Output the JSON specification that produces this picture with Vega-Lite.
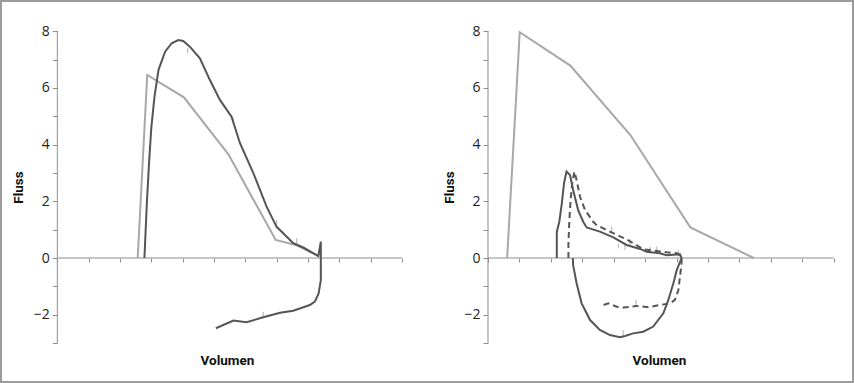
{
  "$schema": "https://vega.github.io/schema/vega-lite/v6.json",
  "background": "#9c9c9c",
  "padding": {"left": 2, "top": 2, "right": 2, "bottom": 2},
  "spacing": 0,
  "bounds": "flush",
  "config": {
    "view": {"stroke": null, "fill": "white"},
    "axis": {
      "grid": false,
      "domain": false,
      "tickColor": "#8f8f8f",
      "tickWidth": 1,
      "labelFont": "Open Sans",
      "labelFontSize": 14,
      "labelColor": "#222222",
      "titleFont": "Roboto",
      "titleFontSize": 13.5,
      "titleFontWeight": "bold",
      "titleColor": "#111111"
    }
  },
  "datasets": {
    "axl": [{"x": 0, "y": -3, "y2": 8}],
    "axh": [{"x": 0, "x2": 11, "y": 0}],
    "L_err": [
      {"x": 4.16, "y": 7.23, "y2": 7.42}, {"x": 5.62, "y": 4.69, "y2": 4.93},
      {"x": 7.0, "y": 1.05, "y2": 1.34}, {"x": 7.64, "y": 0.46, "y2": 0.7},
      {"x": 6.57, "y": -2.13, "y2": -1.9}
    ],
    "R_err": [
      {"x": 3.94, "y": 0.87, "y2": 1.11}, {"x": 4.15, "y": 0.34, "y2": 0.5},
      {"x": 4.36, "y": 0.28, "y2": 0.46}, {"x": 4.52, "y": 0.46, "y2": 0.66},
      {"x": 5.16, "y": 0.17, "y2": 0.4}, {"x": 5.37, "y": 0.17, "y2": 0.4},
      {"x": 6.06, "y": 0.1, "y2": 0.28}, {"x": 4.71, "y": -1.72, "y2": -1.48},
      {"x": 4.3, "y": -2.75, "y2": -2.54}
    ],
    "L_light": [
      {"i": 0, "x": 2.565, "y": 0}, {"i": 1, "x": 2.87, "y": 6.46}, {"i": 2, "x": 4.04, "y": 5.67},
      {"i": 3, "x": 5.46, "y": 3.66}, {"i": 4, "x": 6.97, "y": 0.635}, {"i": 5, "x": 7.64, "y": 0.45},
      {"i": 6, "x": 8.33, "y": 0.07}
    ],
    "L_dark": [
      {"i": 0, "x": 2.78, "y": 0}, {"i": 1, "x": 2.86, "y": 2.0}, {"i": 2, "x": 2.93, "y": 3.4},
      {"i": 3, "x": 3.0, "y": 4.6}, {"i": 4, "x": 3.1, "y": 5.69}, {"i": 5, "x": 3.23, "y": 6.64}, {"i": 6, "x": 3.44, "y": 7.28},
      {"i": 7, "x": 3.65, "y": 7.58}, {"i": 8, "x": 3.86, "y": 7.69}, {"i": 9, "x": 4.02, "y": 7.66},
      {"i": 10, "x": 4.23, "y": 7.46}, {"i": 11, "x": 4.55, "y": 7.05}, {"i": 12, "x": 4.87, "y": 6.28},
      {"i": 13, "x": 5.19, "y": 5.58}, {"i": 14, "x": 5.56, "y": 4.99}, {"i": 15, "x": 5.83, "y": 4.05},
      {"i": 16, "x": 6.26, "y": 2.99}, {"i": 17, "x": 6.68, "y": 1.81}, {"i": 18, "x": 7.0, "y": 1.1},
      {"i": 19, "x": 7.53, "y": 0.52}, {"i": 20, "x": 7.85, "y": 0.37}, {"i": 21, "x": 8.33, "y": 0.07},
      {"i": 22, "x": 8.41, "y": 0.58}, {"i": 23, "x": 8.41, "y": -0.07}, {"i": 24, "x": 8.41, "y": -0.78},
      {"i": 25, "x": 8.34, "y": -1.25}, {"i": 26, "x": 8.22, "y": -1.54}, {"i": 27, "x": 8.06, "y": -1.66},
      {"i": 28, "x": 7.53, "y": -1.86}, {"i": 29, "x": 7.11, "y": -1.93}, {"i": 30, "x": 6.57, "y": -2.09},
      {"i": 31, "x": 6.04, "y": -2.27}, {"i": 32, "x": 5.62, "y": -2.21}, {"i": 33, "x": 5.06, "y": -2.48}
    ],
    "R_light": [
      {"i": 0, "x": 0.61, "y": 0}, {"i": 1, "x": 1.01, "y": 7.97}, {"i": 2, "x": 2.62, "y": 6.79},
      {"i": 3, "x": 4.53, "y": 4.34}, {"i": 4, "x": 6.44, "y": 1.08}, {"i": 5, "x": 8.46, "y": 0}
    ],
    "R_solid": [
      {"i": 0, "x": 2.19, "y": 0}, {"i": 1, "x": 2.19, "y": 0.93}, {"i": 2, "x": 2.27, "y": 1.28},
      {"i": 3, "x": 2.35, "y": 1.93}, {"i": 4, "x": 2.42, "y": 2.64}, {"i": 5, "x": 2.5, "y": 3.05},
      {"i": 6, "x": 2.61, "y": 2.93}, {"i": 7, "x": 2.71, "y": 2.4}, {"i": 8, "x": 2.87, "y": 1.69},
      {"i": 9, "x": 3.03, "y": 1.28}, {"i": 10, "x": 3.14, "y": 1.08}, {"i": 11, "x": 3.56, "y": 0.93},
      {"i": 12, "x": 3.99, "y": 0.73}, {"i": 13, "x": 4.41, "y": 0.46}, {"i": 14, "x": 4.84, "y": 0.32},
      {"i": 15, "x": 5.05, "y": 0.22}, {"i": 16, "x": 5.47, "y": 0.17}, {"i": 17, "x": 5.69, "y": 0.1},
      {"i": 18, "x": 6.01, "y": 0.12}, {"i": 19, "x": 6.11, "y": 0.13}, {"i": 20, "x": 6.16, "y": 0.0},
      {"i": 21, "x": 6.01, "y": -0.42}, {"i": 22, "x": 5.9, "y": -0.89}, {"i": 23, "x": 5.74, "y": -1.48},
      {"i": 24, "x": 5.58, "y": -1.95}, {"i": 25, "x": 5.26, "y": -2.42}, {"i": 26, "x": 4.94, "y": -2.6},
      {"i": 27, "x": 4.62, "y": -2.66}, {"i": 28, "x": 4.36, "y": -2.75}, {"i": 29, "x": 4.2, "y": -2.8},
      {"i": 30, "x": 3.88, "y": -2.72}, {"i": 31, "x": 3.56, "y": -2.54}, {"i": 32, "x": 3.25, "y": -2.19},
      {"i": 33, "x": 2.98, "y": -1.6}, {"i": 34, "x": 2.82, "y": -0.89}, {"i": 35, "x": 2.71, "y": -0.25},
      {"i": 36, "x": 2.7, "y": 0.0}
    ],
    "R_dash": [
      {"i": 0, "x": 2.56, "y": 0}, {"i": 1, "x": 2.56, "y": 0.52}, {"i": 2, "x": 2.59, "y": 1.34},
      {"i": 3, "x": 2.63, "y": 2.05}, {"i": 4, "x": 2.68, "y": 2.64}, {"i": 5, "x": 2.75, "y": 3.05},
      {"i": 6, "x": 2.82, "y": 2.75}, {"i": 7, "x": 2.93, "y": 2.16}, {"i": 8, "x": 3.09, "y": 1.69},
      {"i": 9, "x": 3.35, "y": 1.28}, {"i": 10, "x": 3.46, "y": 1.16}, {"i": 11, "x": 3.88, "y": 0.93},
      {"i": 12, "x": 4.41, "y": 0.66}, {"i": 13, "x": 4.94, "y": 0.31}, {"i": 14, "x": 5.37, "y": 0.25},
      {"i": 15, "x": 5.69, "y": 0.2}, {"i": 16, "x": 6.01, "y": 0.17}, {"i": 17, "x": 6.16, "y": 0.05},
      {"i": 18, "x": 6.16, "y": -0.19}, {"i": 19, "x": 6.11, "y": -0.66}, {"i": 20, "x": 6.06, "y": -1.13},
      {"i": 21, "x": 5.95, "y": -1.48}, {"i": 22, "x": 5.79, "y": -1.6}, {"i": 23, "x": 5.47, "y": -1.66},
      {"i": 24, "x": 5.1, "y": -1.74}, {"i": 25, "x": 4.73, "y": -1.69}, {"i": 26, "x": 4.31, "y": -1.75},
      {"i": 27, "x": 4.1, "y": -1.72}, {"i": 28, "x": 3.83, "y": -1.6}, {"i": 29, "x": 3.62, "y": -1.68}
    ]
  },
  "hconcat": [
    {
      "width": 425,
      "height": 379,
      "encoding": {
        "x": {
          "field": "x", "type": "quantitative",
          "scale": {"domain": [-1.766, 11.799], "nice": false, "zero": false},
          "axis": {
            "orient": "bottom", "offset": -123, "values": [0,1,2,3,4,5,6,7,8,9,10,11],
            "tickSize": 4, "labels": false, "title": "Volumen",
            "titleX": 225, "titleY": 106, "titleBaseline": "alphabetic", "titleAlign": "center", "titleAnchor": null
          }
        },
        "y": {
          "field": "y", "type": "quantitative",
          "scale": {"domain": [-4.341, 9.035], "nice": false, "zero": false},
          "axis": {
            "orient": "left", "offset": -55.33, "values": [-3,-2,-1,0,1,2,3,4,5,6,7,8],
            "tickSize": 5, "labelPadding": 3,
            "labelExpr": "datum.value % 2 == 0 ? datum.label : ''",
            "title": "Fluss", "titleX": -39, "titleY": 185, "titleAngle": -90,
            "titleBaseline": "middle", "titleAlign": "center"
          }
        }
      },
      "layer": [
        {"data": {"name": "axl"}, "mark": {"type": "rule", "color": "#8f8f8f", "strokeWidth": 1}, "encoding": {"y2": {"field": "y2"}}},
        {"data": {"name": "axh"}, "mark": {"type": "rule", "color": "#8f8f8f", "strokeWidth": 1}, "encoding": {"x2": {"field": "x2"}}},
        {"data": {"name": "L_err"}, "mark": {"type": "rule", "color": "#b0b0b0", "strokeWidth": 1}, "encoding": {"y2": {"field": "y2"}}},
        {"data": {"name": "L_light"}, "mark": {"type": "line", "color": "#a8a8a8", "strokeWidth": 2}, "encoding": {"order": {"field": "i"}}},
        {"data": {"name": "L_dark"}, "mark": {"type": "line", "color": "#555555", "strokeWidth": 2}, "encoding": {"order": {"field": "i"}}}
      ]
    },
    {
      "width": 425,
      "height": 379,
      "encoding": {
        "x": {
          "field": "x", "type": "quantitative",
          "scale": {"domain": [-1.941, 11.585], "nice": false, "zero": false},
          "axis": {
            "orient": "bottom", "offset": -123, "values": [0,1,2,3,4,5,6,7,8,9,10,11],
            "tickSize": 4, "labels": false, "title": "Volumen",
            "titleX": 232, "titleY": 106, "titleBaseline": "alphabetic", "titleAlign": "center", "titleAnchor": null
          }
        },
        "y": {
          "field": "y", "type": "quantitative",
          "scale": {"domain": [-4.341, 9.035], "nice": false, "zero": false},
          "axis": {
            "orient": "left", "offset": -61, "values": [-3,-2,-1,0,1,2,3,4,5,6,7,8],
            "tickSize": 5, "labelPadding": 3,
            "labelExpr": "datum.value % 2 == 0 ? datum.label : ''",
            "title": "Fluss", "titleX": -39, "titleY": 185, "titleAngle": -90,
            "titleBaseline": "middle", "titleAlign": "center"
          }
        }
      },
      "layer": [
        {"data": {"name": "axl"}, "mark": {"type": "rule", "color": "#8f8f8f", "strokeWidth": 1}, "encoding": {"y2": {"field": "y2"}}},
        {"data": {"name": "axh"}, "mark": {"type": "rule", "color": "#8f8f8f", "strokeWidth": 1}, "encoding": {"x2": {"field": "x2"}}},
        {"data": {"name": "R_err"}, "mark": {"type": "rule", "color": "#b0b0b0", "strokeWidth": 1}, "encoding": {"y2": {"field": "y2"}}},
        {"data": {"name": "R_light"}, "mark": {"type": "line", "color": "#a8a8a8", "strokeWidth": 2}, "encoding": {"order": {"field": "i"}}},
        {"data": {"name": "R_dash"}, "mark": {"type": "line", "color": "#555555", "strokeWidth": 2, "strokeDash": [6, 4]}, "encoding": {"order": {"field": "i"}}},
        {"data": {"name": "R_solid"}, "mark": {"type": "line", "color": "#555555", "strokeWidth": 2}, "encoding": {"order": {"field": "i"}}}
      ]
    }
  ]
}
